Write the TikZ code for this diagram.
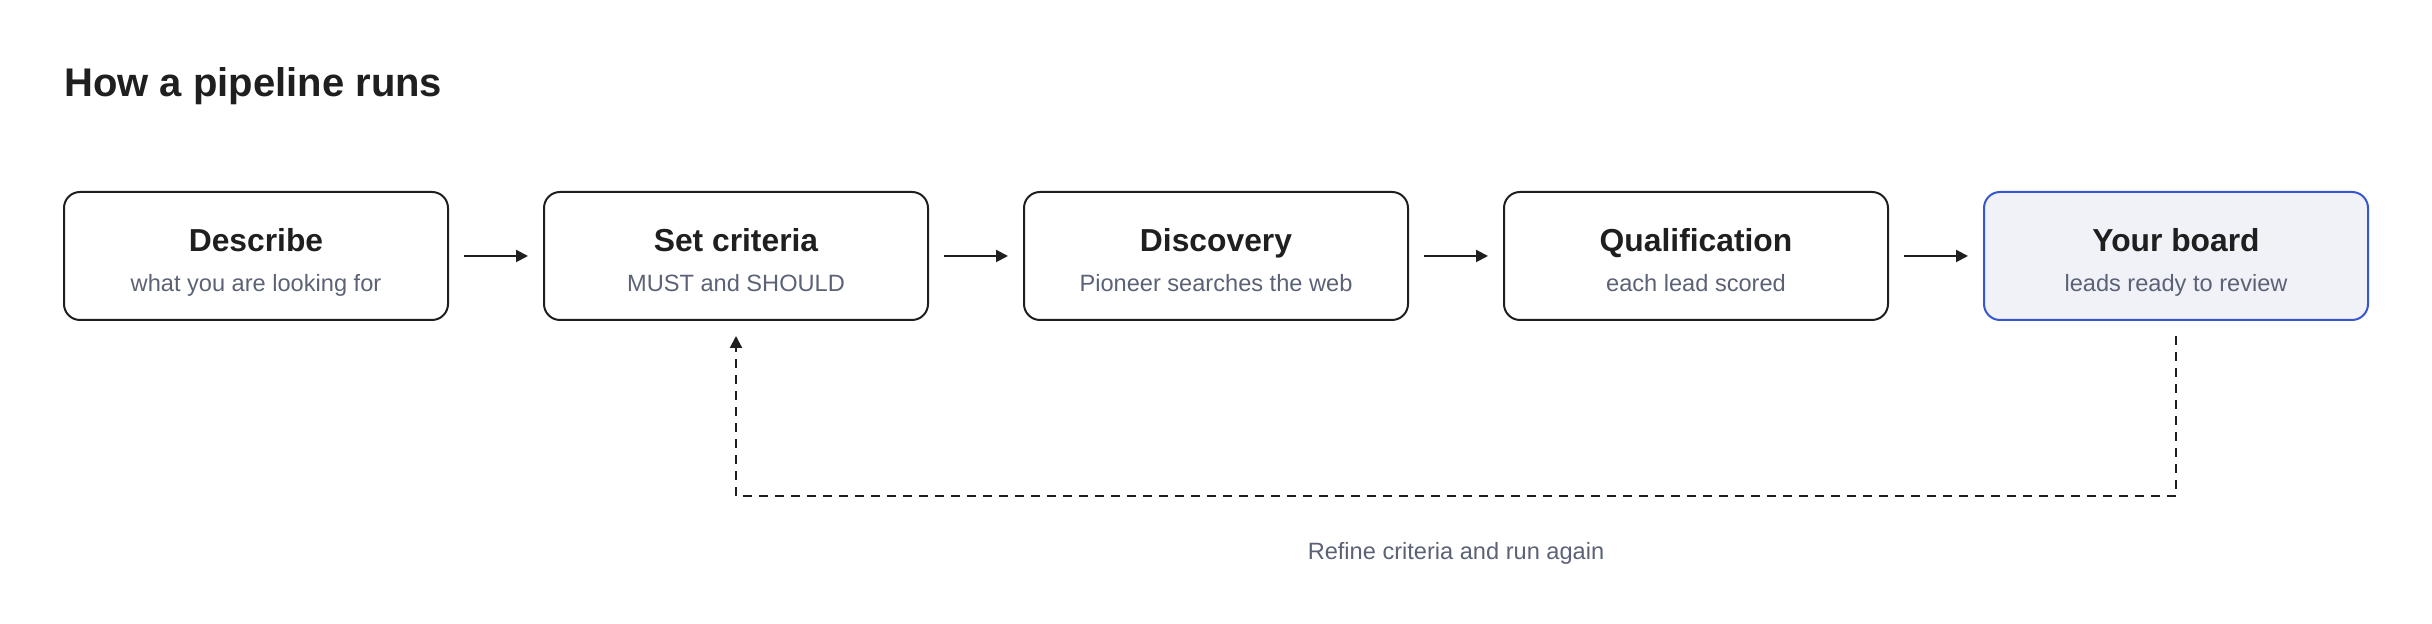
\documentclass[tikz,border=0pt]{standalone}
\usepackage{fontspec}
\setmainfont{Liberation Sans}
\usetikzlibrary{positioning,arrows.meta}
\definecolor{ink}{HTML}{1F1F1F}
\definecolor{subgrey}{HTML}{5B6275}
\definecolor{boardblue}{HTML}{3756D0}
\definecolor{boardfill}{HTML}{F0F2F8}
\tikzstyle{stepbox}=[draw=ink, line width=1pt, rounded corners=8pt, minimum width=192pt, minimum height=64pt, inner sep=0pt, outer sep=0pt]
\tikzstyle{board box}=[stepbox, draw=boardblue, fill=boardfill]
\tikzstyle{step title}=[anchor=base, inner sep=0pt, text=ink, font=\fontsize{15.9}{19}\selectfont\bfseries]
\tikzstyle{step note}=[anchor=base, inner sep=0pt, text=subgrey, font=\fontsize{11.8}{14}\selectfont]
\tikzstyle{flow}=[draw=ink, line width=1pt, -{Triangle[length=6pt,width=6pt]}, shorten <=8pt, shorten >=8pt]
\tikzstyle{loop back}=[flow, dash pattern=on 4.5pt off 3.5pt]

\begin{document}
\begin{tikzpicture}
  \useasboundingbox (0,0) rectangle (1216pt,312pt);

  \node[anchor=base west, inner sep=0pt, text=ink, font=\fontsize{20}{24}\selectfont\bfseries] (heading) at (32pt,263.6pt) {How a pipeline runs};

  % Steps of the pipeline

  \node[stepbox] (describe) at (128pt,184pt) {};
  \node[stepbox, right = 48pt of describe] (criteria) {};
  \node[stepbox, right = 48pt of criteria] (discovery) {};
  \node[stepbox, right = 48pt of discovery] (qualify) {};
  \node[board box, right = 48pt of qualify] (board) {};

  \node[step title] (describeT) at ([yshift=2.15pt]describe.center) {Describe};
  \node[step note] (describeN) at ([yshift=-17.85pt]describe.center) {what you are looking for};

  \node[step title] (criteriaT) at ([yshift=2.15pt]criteria.center) {Set criteria};
  \node[step note] (criteriaN) at ([yshift=-17.85pt]criteria.center) {MUST and SHOULD};

  \node[step title] (discoveryT) at ([yshift=2.15pt]discovery.center) {Discovery};
  \node[step note] (discoveryN) at ([yshift=-17.85pt]discovery.center) {Pioneer searches the web};

  \node[step title] (qualifyT) at ([yshift=2.15pt]qualify.center) {Qualification};
  \node[step note] (qualifyN) at ([yshift=-17.85pt]qualify.center) {each lead scored};

  \node[step title] (boardT) at ([yshift=2.15pt]board.center) {Your board};
  \node[step note] (boardN) at ([yshift=-17.85pt]board.center) {leads ready to review};

  % Arrows between steps

  \draw[flow] (describe) -- (criteria);
  \draw[flow] (criteria) -- (discovery);
  \draw[flow] (discovery) -- (qualify);
  \draw[flow] (qualify) -- (board);

  % Back to the criteria

  \draw[loop back] (board.south) -- ++(0,-88pt)
  -| node[pos=0.25, anchor=base, yshift=-32pt, inner sep=0pt, text=subgrey, font=\fontsize{11.8}{14}\selectfont] (refine) {Refine criteria and run again}
  (criteria.south);
\end{tikzpicture}
\end{document}
